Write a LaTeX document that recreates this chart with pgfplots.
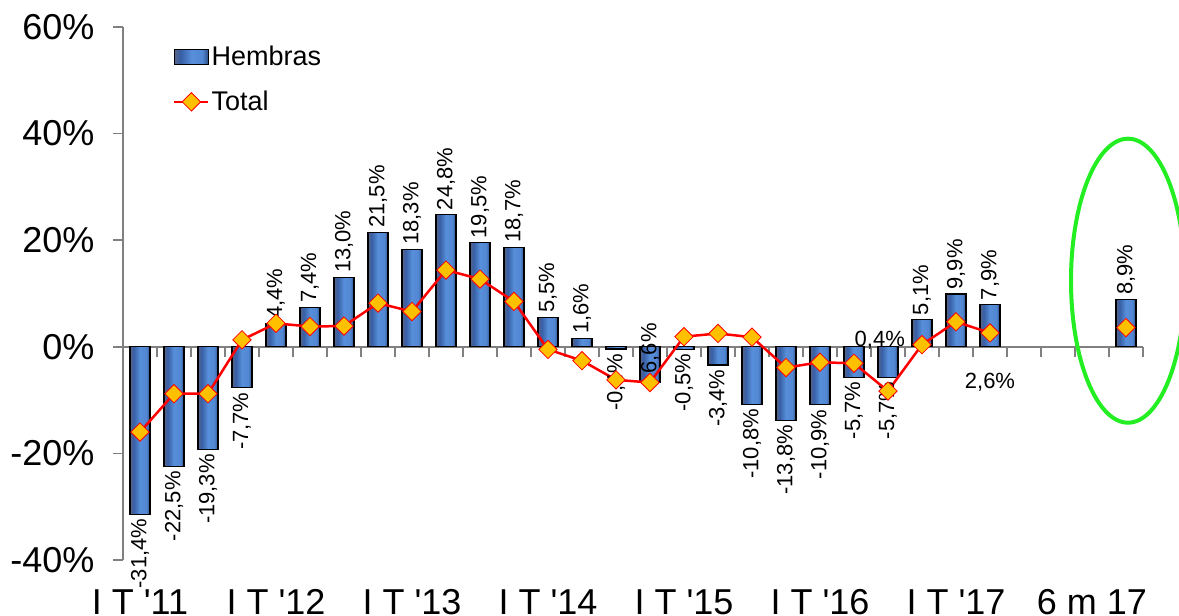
\documentclass[border=0pt]{standalone}
\usepackage{pgfplots}
\pgfplotsset{compat=1.18}
\usepackage{pgfplotstable}
\usepackage{fontspec}
\setmainfont{Liberation Sans}
\definecolor{mk}{RGB}{255,192,0}
\definecolor{axg}{RGB}{128,128,128}
\definecolor{ell}{RGB}{34,238,34}
\pgfdeclarehorizontalshading{barshade}{100bp}{%
  color(0bp)=(black!85!blue!60); color(22bp)=(black!85!blue!60);
  color(34bp)=({rgb,255:red,55;green,95;blue,165});
  color(50bp)=({rgb,255:red,88;green,143;blue,218});
  color(66bp)=({rgb,255:red,82;green,135;blue,210});
  color(78bp)=({rgb,255:red,30;green,55;blue,105});
  color(100bp)=({rgb,255:red,30;green,55;blue,105})}

\newcommand{\tickfont}{\fontsize{36bp}{42bp}\selectfont}
\newcommand{\labfont}{\fontsize{22bp}{26bp}\selectfont}

\pgfplotsset{
  barleg/.style={legend image code/.code={\draw[##1] (0bp,-7.5bp) rectangle (34bp,7.5bp);}},
  lineleg/.style={legend image code/.code={\draw[mark repeat=2,mark phase=2,##1] plot coordinates {(0bp,0bp) (17bp,0bp) (34bp,0bp)};}},
  barsty/.style={ybar, bar width=20bp, bar shift=0pt, draw=black, line width=1.2bp,
    shade, shading=barshade},
  barlab/.style={nodes near coords={\rotatebox{90}{\pgfplotspointmeta}},
    point meta=explicit symbolic,
    every node near coord/.append style={font=\labfont, text=black, inner sep=4bp, anchor=#1}},
}

\pgfplotstableread{
x y lab
1 -31.4 {-31,4\%}
2 -22.5 {-22,5\%}
3 -19.3 {-19,3\%}
4 -7.7 {-7,7\%}
5 4.4 {4,4\%}
6 7.4 {7,4\%}
7 13.0 {13,0\%}
8 21.5 {21,5\%}
9 18.3 {18,3\%}
10 24.8 {24,8\%}
11 19.5 {19,5\%}
12 18.7 {18,7\%}
13 5.5 {5,5\%}
14 1.6 {1,6\%}
15 -0.4 {-0,4\%}
16 -6.6 {}
17 -0.5 {-0,5\%}
18 -3.4 {-3,4\%}
19 -10.8 {-10,8\%}
20 -13.8 {-13,8\%}
21 -10.9 {-10,9\%}
22 -5.7 {-5,7\%}
23 -5.7 {-5,7\%}
24 5.1 {5,1\%}
25 9.9 {9,9\%}
26 7.9 {7,9\%}
30 8.9 {8,9\%}
}\hembras

\pgfplotstableread{
x y
1 -16.0
2 -8.8
3 -8.8
4 1.3
5 4.4
6 3.8
7 3.9
8 8.2
9 6.6
10 14.4
11 12.7
12 8.5
13 -0.5
14 -2.6
15 -6.2
16 -6.7
17 1.9
18 2.5
19 1.8
20 -3.9
21 -2.9
22 -3.1
23 -8.3
24 0.4
25 4.7
26 2.6
27 nan
28 nan
29 nan
30 3.6
}\total

\begin{document}
\begin{tikzpicture}
\begin{axis}[at={(123bp,56bp)}, anchor=south west, scale only axis,
  width=1020bp, height=533bp, xmin=0.5, xmax=30.5, ymin=-40, ymax=60,
  axis x line=middle, axis y line=none,
  xtick={0.5,1.5,...,30.5}, xticklabels={},
  x axis line style={-, draw=axg, line width=1.5bp},
  xtick style={draw=axg, line width=1.5bp, yshift=-5bp},
  major tick length=10bp, tick align=center]
\end{axis}
\begin{axis}[at={(123bp,56bp)}, anchor=south west, scale only axis,
  width=1020bp, height=533bp, xmin=0.5, xmax=30.5, ymin=-40, ymax=60,
  axis y line*=left, axis x line*=bottom,
  x axis line style={draw=none},
  y axis line style={draw=axg, line width=1.5bp},
  ytick={-40,-20,0,20,40,60},
  yticklabels={-40\%,-20\%,0\%,20\%,40\%,60\%},
  ytick style={draw=axg, line width=1.5bp},
  tick align=outside, major tick length=10bp,
  yticklabel style={font=\tickfont, xshift=-15bp},
  xtick={1,5,9,13,17,21,25,29},
  xticklabels={I T \textquotesingle 11, I T \textquotesingle 12, I T \textquotesingle 13, I T \textquotesingle 14, I T \textquotesingle 15, I T \textquotesingle 16, I T \textquotesingle 17, 6 m 17},
  xtick style={draw=none},
  xticklabel style={font=\tickfont, anchor=base, yshift=-44bp},
  legend style={at={(0.049,0.968)}, anchor=north west, draw=none, fill=none,
    font=\fontsize{27bp}{32bp}\selectfont, row sep=20bp, inner sep=0pt,
    nodes={inner sep=2bp}},
  legend cell align=left,
  clip=false,
]
\pgfplotsinvokeforeach{4,5,6,7,8,9,10,11,12,13,23,24,25,26}{
\addplot[barsty, forget plot, barlab=south,
  restrict expr to domain={\coordindex}{#1:#1}] table[x=x, y=y, meta=lab] {\hembras};
}
\pgfplotsinvokeforeach{0,1,2,3,14,15,16,17,18,19,20,21,22}{
\addplot[barsty, forget plot, barlab=north,
  restrict expr to domain={\coordindex}{#1:#1}] table[x=x, y=y, meta=lab] {\hembras};
}
\addlegendimage{barsty, barleg}
\addlegendentry{Hembras}
\addplot[red, line width=2.5bp, mark=square*, mark size=6.5bp,
  mark options={rotate=45, fill=mk, draw=red, line width=0.8bp},
  unbounded coords=jump, lineleg
] table[x=x, y=y] {\total};
\addlegendentry{Total}
\node[rotate=90, anchor=west, font=\labfont, inner sep=1bp] at (axis cs:16,-6.6) {-6,6\%};
\node[font=\labfont, inner sep=0pt] at (axis cs:22.76,1.3) {0,4\%};
\node[font=\labfont, inner sep=0pt] at (axis cs:26,-6.6) {2,6\%};
\draw[ell, line width=4bp] (axis cs:30.06,12.4) ellipse [x radius=57bp, y radius=142bp];
\end{axis}
\pgfresetboundingbox
\useasboundingbox (0,0) rectangle (1179bp,616bp);
\end{tikzpicture}
\end{document}
